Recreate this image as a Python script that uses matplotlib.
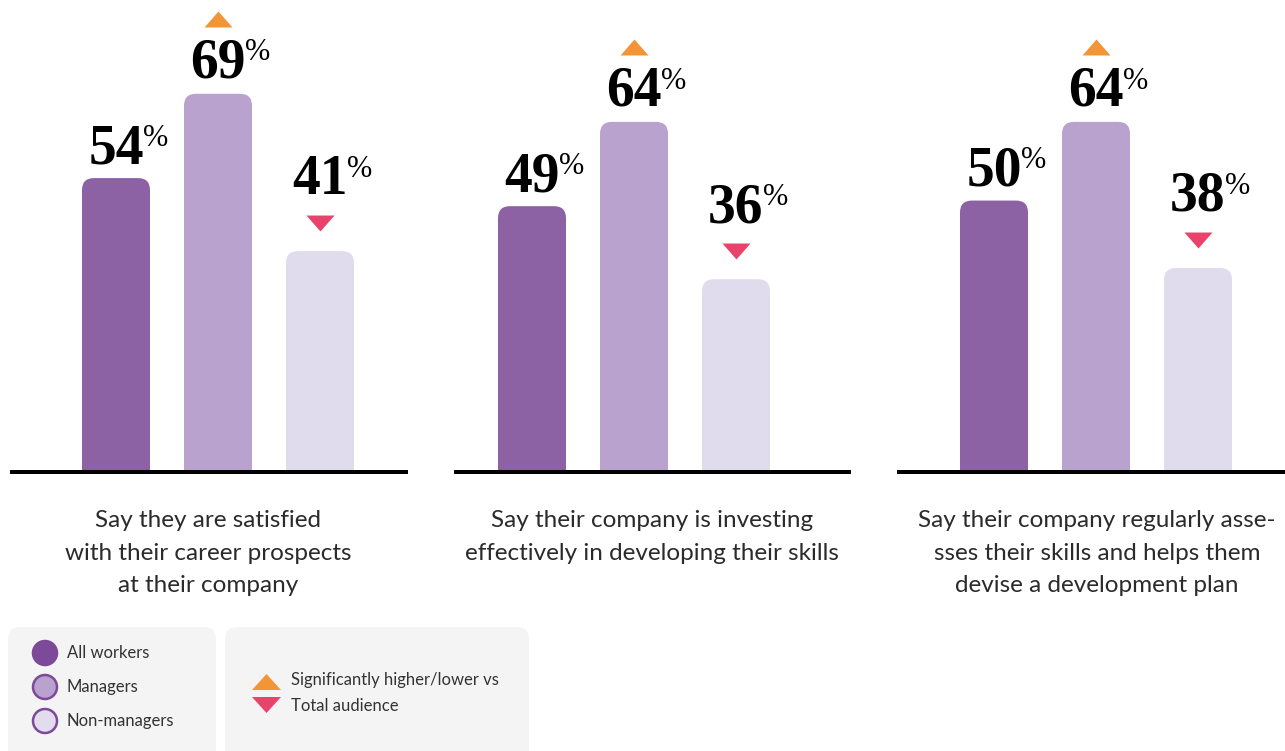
import matplotlib
matplotlib.use("Agg")
import matplotlib.pyplot as plt
from matplotlib.patches import FancyBboxPatch, Circle, Polygon
from matplotlib.path import Path
from matplotlib.transforms import offset_copy

# --- data ---
groups = ["All workers", "Managers", "Non-managers"]
statements = [
    "Say they are satisfied\nwith their career prospects\nat their company",
    "Say their company is investing\neffectively in developing their skills",
    "Say their company regularly asse-\nsses their skills and helps them\ndevise a development plan",
]
all_workers = [54, 49, 50]
managers = [69, 64, 64]
non_managers = [41, 36, 38]
# significance vs total audience: +1 higher, -1 lower, 0 none
managers_sig = [1, 1, 1]
non_managers_sig = [-1, -1, -1]

# --- style ---
BAR_COLORS = ["#8c62a5", "#b9a2ce", "#e1dbee"]
LEGEND_EDGE = "#7c4a98"
UP_COLOR = "#f39536"
DOWN_COLOR = "#e8436a"
TEXT_DARK = "#2b2b2b"
BOX_BG = "#f4f4f4"

W, H = 1285, 751
PX = 0.72            # points per pixel at dpi 100
PX_PER_PCT = 5.62    # vertical scale of the bars
Y_FLOOR = 1.7        # value sitting on the baseline
BASE_Y = 472         # baseline position (px from top)
BAR_W = 68
BAR_STEP = 102

# panel layout in pixels: (left, width, first bar centre offset, text centre)
panels = [(10, 398, 106, 208), (454, 397, 78, 652), (897, 388, 97, 1097)]

fig = plt.figure(figsize=(W / 100, H / 100), dpi=100, facecolor="white")

up_marker = Path([(-1, -0.57), (1, -0.57), (0, 0.57), (-1, -0.57)])
down_marker = Path([(-1, 0.57), (1, 0.57), (0, -0.57), (-1, 0.57)])

serif = ["Liberation Serif", "DejaVu Serif"]
sans = ["Lato", "DejaVu Sans"]
NUM_FS = 40


def value_label(ax, x, v, base_px):
    tr = offset_copy(ax.transData, fig=fig, x=0, y=base_px * PX, units="points")
    ax.text(x, v, f"{v}", transform=tr, ha="center", va="baseline",
            fontsize=NUM_FS, fontweight="bold", family=serif, color="black")
    tr2 = offset_copy(ax.transData, fig=fig, x=NUM_FS * 0.5 - 0.5,
                      y=base_px * PX + 12.5, units="points")
    ax.text(x, v, "%", transform=tr2, ha="left", va="baseline",
            fontsize=22, family=serif, color="black")


def sig_marker(ax, x, v, sig, px_up):
    if sig == 0:
        return
    tr = offset_copy(ax.transData, fig=fig, x=0, y=px_up * PX, units="points")
    ax.plot([x], [v], transform=tr, marker=up_marker if sig > 0 else down_marker,
            markersize=28 * PX, color=UP_COLOR if sig > 0 else DOWN_COLOR,
            markeredgewidth=0, linestyle="none", clip_on=False)


for i, (left, width, first, _) in enumerate(panels):
    ax = fig.add_axes([left / W, (H - BASE_Y) / H, width / W, BASE_Y / H])
    ax.set_xlim(0, width)
    ax.set_ylim(Y_FLOOR, Y_FLOOR + BASE_Y / PX_PER_PCT)
    ax.axis("off")

    values = [all_workers[i], managers[i], non_managers[i]]
    for j, v in enumerate(values):
        cx = first + j * BAR_STEP
        bar = FancyBboxPatch((cx - BAR_W / 2, -5), BAR_W, v + 5,
                             boxstyle="round,pad=0,rounding_size=12",
                             mutation_aspect=1 / PX_PER_PCT,
                             facecolor=BAR_COLORS[j], edgecolor="none")
        ax.add_patch(bar)

    # all workers: label sits right on the bar
    value_label(ax, first, all_workers[i], 15)
    # managers: label, then marker above
    value_label(ax, first + BAR_STEP, managers[i], 16)
    sig_marker(ax, first + BAR_STEP, managers[i], managers_sig[i], 75)
    # non-managers: marker under the label
    sig_marker(ax, first + 2 * BAR_STEP, non_managers[i], non_managers_sig[i], 28)
    value_label(ax, first + 2 * BAR_STEP, non_managers[i], 57)

    ax.axhline(Y_FLOOR, color="black", lw=4 * PX, clip_on=False, zorder=5,
               solid_capstyle="butt")

# overlay in pixel coordinates for captions and legend
ov = fig.add_axes([0, 0, 1, 1])
ov.set_xlim(0, W)
ov.set_ylim(H, 0)
ov.axis("off")

for (_, _, _, tx), s in zip(panels, statements):
    ov.text(tx, 510, s, ha="center", va="top", fontsize=17.5,
            family=sans, color=TEXT_DARK, linespacing=1.68)

# legend boxes
for x0, x1 in [(8, 216), (225, 529)]:
    ov.add_patch(FancyBboxPatch((x0, 627), x1 - x0, 160,
                                boxstyle="round,pad=0,rounding_size=12",
                                facecolor=BOX_BG, edgecolor="none"))

legend_fill = ["#7c4a98", BAR_COLORS[1], "#e3dcee"]
for k, (name, fc) in enumerate(zip(groups, legend_fill)):
    cy = 653 + k * 34
    ov.add_patch(Circle((45, cy), 12, facecolor=fc,
                        edgecolor=LEGEND_EDGE, lw=2.5 * PX))
    ov.text(67, cy, name, ha="left", va="center", fontsize=12,
            family=sans, color="#333333")

ov.add_patch(Polygon([(252, 690), (281, 690), (266.5, 674)], closed=True,
                     facecolor=UP_COLOR, edgecolor="none"))
ov.add_patch(Polygon([(252, 697), (281, 697), (266.5, 713)], closed=True,
                     facecolor=DOWN_COLOR, edgecolor="none"))
ov.text(291, 680, "Significantly higher/lower vs", ha="left", va="center",
        fontsize=12, family=sans, color="#333333")
ov.text(291, 706, "Total audience", ha="left", va="center",
        fontsize=12, family=sans, color="#333333")

fig.savefig("out.png", dpi=100, facecolor="white")
